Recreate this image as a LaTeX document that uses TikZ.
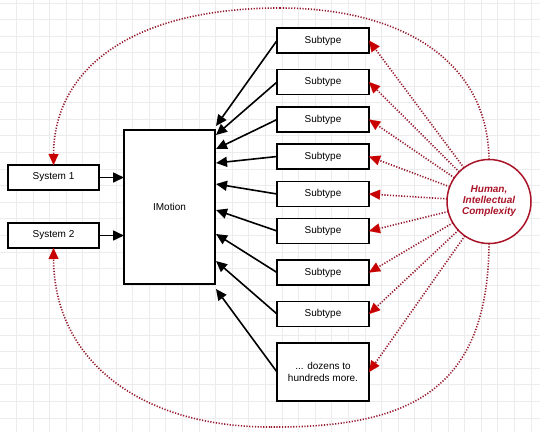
\documentclass[tikz,border=0pt]{standalone}
\usepackage{fontspec}
\setmainfont{Liberation Sans}
\usetikzlibrary{arrows.meta,calc}
\definecolor{hred}{RGB}{170,20,40}
\definecolor{hdot}{RGB}{150,25,45}
\definecolor{harrow}{RGB}{200,0,0}
\definecolor{gridc}{RGB}{236,236,236}
\begin{document}
\begin{tikzpicture}[x=1pt,y=-1pt,
  box/.style={draw=black,line width=1.4pt,fill=white,inner sep=1pt,outer sep=0pt,
    minimum width=91pt,minimum height=25pt,font=\fontsize{10}{11.5}\selectfont,align=center},
  blk/.style={line width=1.6pt,-{Triangle[length=11pt,width=10pt]}},
  redarr/.style={draw=hdot,line width=1.6pt,dash pattern=on 1.2pt off 1.6pt,
    -{Triangle[length=11pt,width=10pt,color=harrow,line width=0.1pt]}},
  hcirc/.style={circle,draw=hred,line width=1.5pt,fill=white,minimum size=84pt,inner sep=0pt,
    outer sep=0pt,text=hred,font=\fontsize{10}{11}\selectfont\bfseries\itshape,align=center}]
\useasboundingbox (0,0) rectangle (540,432);
\fill[white] (0,0) rectangle (540,432);
\foreach \i in {0,...,33} {\draw[gridc,line width=0.6pt] (-0.4+16.6*\i,0) -- (-0.4+16.6*\i,432);}
\foreach \i in {0,...,26} {\draw[gridc,line width=0.6pt] (0,2.8+16.6*\i) -- (540,2.8+16.6*\i);}

% main nodes
\node[box] (s1) at (53.5,177.5) {System 1};
\node[box] (s2) at (53.5,235.5) {System 2};
\node[box,minimum height=154pt] (im) at (169.5,207) {IMotion};

\node[box,minimum width=92pt] (a1) at (323,40.5) {Subtype};
\node[box,minimum width=92pt] (a2) at (323,82) {Subtype};
\node[box,minimum width=92pt] (a3) at (323,119.5) {Subtype};
\node[box,minimum width=92pt] (a4) at (323,156.5) {Subtype};
\node[box,minimum width=92pt] (a5) at (323,194) {Subtype};
\node[box,minimum width=92pt] (a6) at (323,231) {Subtype};
\node[box,minimum width=92pt] (a7) at (323,272.5) {Subtype};
\node[box,minimum width=92pt] (a8) at (323,314) {Subtype};
\node[box,minimum width=92pt,minimum height=58pt] (a9) at (323,372) {... dozens to\\hundreds more.};

\node[hcirc] (hc) at (489,201.5) {Human,\\Intellectual\\Complexity};

% arrow targets on IMotion
\coordinate (t1) at (216,126);
\coordinate (t2) at (216,135);
\coordinate (t3) at (216,149);
\coordinate (t4) at (216,163);
\coordinate (t5) at (216,184);
\coordinate (t6) at (216,210);
\coordinate (t7) at (216,234);
\coordinate (t8) at (216,261);
\coordinate (t9) at (216,289);

\draw[blk] (s1.east) -- (s1.east -| im.west);
\draw[blk] (s2.east) -- (s2.east -| im.west);
\foreach \k in {1,...,9} {\draw[blk] (a\k.west) -- (t\k);}

% red dotted arrows
\foreach \k in {1,...,9} {\draw[redarr] (hc) -- (a\k.east);}

% big curves
\coordinate (topc) at (280,8);
\coordinate (botc) at (270,427);
\draw[draw=hdot,line width=1.6pt,dash pattern=on 1.2pt off 1.6pt]
  (hc.north) .. controls (488,60) and (400,8) .. (topc);
\draw[redarr] (topc) .. controls (130,8) and (54,70) .. (s1.north);
\draw[draw=hdot,line width=1.6pt,dash pattern=on 1.2pt off 1.6pt]
  (hc.south) .. controls (488,390) and (410,428) .. (botc);
\draw[redarr] (botc) .. controls (140,427) and (54,360) .. (s2.south);
\end{tikzpicture}
\end{document}
